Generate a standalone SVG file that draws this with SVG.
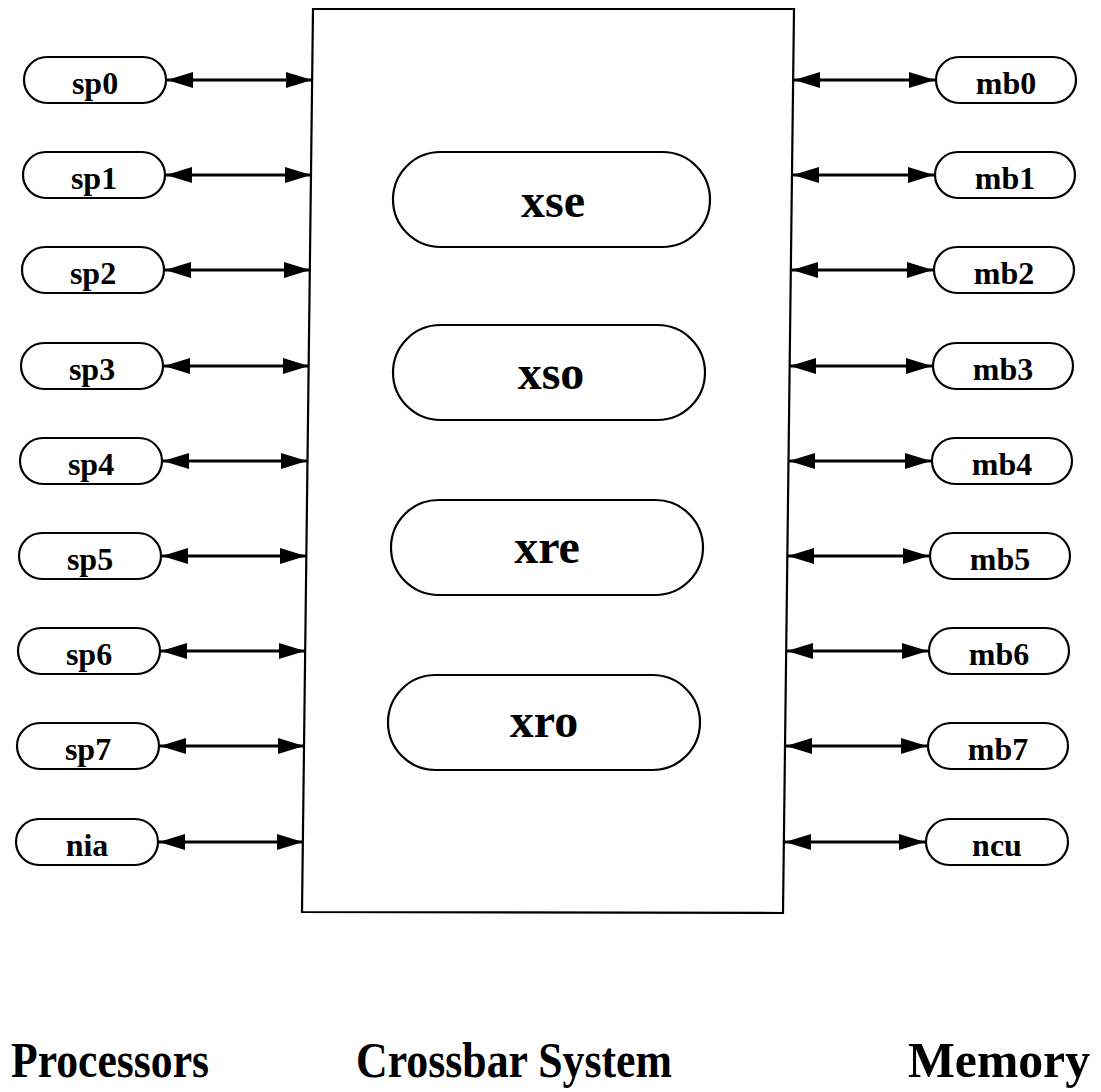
<svg xmlns="http://www.w3.org/2000/svg" width="1101" height="1092" viewBox="0 0 1101 1092">
<style>
  .nd { fill: #fff; stroke: #000; stroke-width: 2.2; }
  .lbl { font-family: "Liberation Serif", "Times New Roman", serif; font-weight: bold; font-size: 32px; text-anchor: middle; fill: #000; }
  .big { font-family: "Liberation Serif", "Times New Roman", serif; font-weight: bold; font-size: 48px; text-anchor: middle; fill: #000; }
  .cap { font-family: "Liberation Serif", "Times New Roman", serif; font-weight: bold; font-size: 50px; fill: #000; }
  .ar { stroke: #000; stroke-width: 3; fill: none; marker-start: url(#ah); marker-end: url(#ah); }
</style>
<defs>
  <marker id="ah" markerUnits="userSpaceOnUse" markerWidth="27" markerHeight="17" refX="26" refY="8" orient="auto-start-reverse">
    <path d="M0,0 L26,8 L0,16 z" fill="#000"/>
  </marker>
</defs>
<rect width="1101" height="1092" fill="#fff"/>

<g id="crossbar">
  <path d="M313,9 L794,9 L783,913 L302,912 Z" fill="#fff" stroke="#000" stroke-width="2.2"/>
</g>

<g id="xse"><rect class="nd" x="393" y="152" width="317" height="95" rx="47.5"/><text class="big" x="553" y="217">xse</text></g>
<g id="xso"><rect class="nd" x="393" y="325" width="312" height="95" rx="47.5"/><text class="big" x="551" y="389">xso</text></g>
<g id="xre"><rect class="nd" x="391" y="500" width="312" height="95" rx="47.5"/><text class="big" x="547" y="563">xre</text></g>
<g id="xro"><rect class="nd" x="388" y="675" width="312" height="95" rx="47.5"/><text class="big" x="544" y="737">xro</text></g>

<g id="sp0"><rect class="nd" x="24" y="57" width="142" height="46" rx="23"/><text class="lbl" x="95" y="94">sp0</text></g>
<g id="sp1"><rect class="nd" x="23" y="152" width="142" height="46" rx="23"/><text class="lbl" x="94" y="189">sp1</text></g>
<g id="sp2"><rect class="nd" x="22" y="247" width="142" height="46" rx="23"/><text class="lbl" x="93" y="284">sp2</text></g>
<g id="sp3"><rect class="nd" x="21" y="343" width="142" height="46" rx="23"/><text class="lbl" x="92" y="380">sp3</text></g>
<g id="sp4"><rect class="nd" x="20" y="438" width="142" height="46" rx="23"/><text class="lbl" x="91" y="475">sp4</text></g>
<g id="sp5"><rect class="nd" x="19" y="533" width="142" height="46" rx="23"/><text class="lbl" x="90" y="570">sp5</text></g>
<g id="sp6"><rect class="nd" x="18" y="628" width="142" height="46" rx="23"/><text class="lbl" x="89" y="665">sp6</text></g>
<g id="sp7"><rect class="nd" x="17" y="723" width="142" height="46" rx="23"/><text class="lbl" x="88" y="760">sp7</text></g>
<g id="nia"><rect class="nd" x="16" y="819" width="142" height="46" rx="23"/><text class="lbl" x="87" y="856">nia</text></g>

<g id="mb0"><rect class="nd" x="936" y="57" width="140" height="46" rx="23"/><text class="lbl" x="1006" y="94">mb0</text></g>
<g id="mb1"><rect class="nd" x="935" y="152" width="140" height="46" rx="23"/><text class="lbl" x="1005" y="189">mb1</text></g>
<g id="mb2"><rect class="nd" x="934" y="247" width="140" height="46" rx="23"/><text class="lbl" x="1004" y="284">mb2</text></g>
<g id="mb3"><rect class="nd" x="933" y="343" width="140" height="46" rx="23"/><text class="lbl" x="1003" y="380">mb3</text></g>
<g id="mb4"><rect class="nd" x="932" y="438" width="140" height="46" rx="23"/><text class="lbl" x="1002" y="475">mb4</text></g>
<g id="mb5"><rect class="nd" x="930" y="533" width="140" height="46" rx="23"/><text class="lbl" x="1000" y="570">mb5</text></g>
<g id="mb6"><rect class="nd" x="929" y="628" width="140" height="46" rx="23"/><text class="lbl" x="999" y="665">mb6</text></g>
<g id="mb7"><rect class="nd" x="928" y="723" width="140" height="46" rx="23"/><text class="lbl" x="998" y="760">mb7</text></g>
<g id="ncu"><rect class="nd" x="926" y="819" width="142" height="46" rx="23"/><text class="lbl" x="997" y="856">ncu</text></g>

<g id="connectors">
  <line class="ar" x1="167" y1="80" x2="312" y2="80"/>
  <line class="ar" x1="166" y1="175" x2="311" y2="175"/>
  <line class="ar" x1="165" y1="270" x2="310" y2="270"/>
  <line class="ar" x1="164" y1="366" x2="309" y2="366"/>
  <line class="ar" x1="163" y1="461" x2="307" y2="461"/>
  <line class="ar" x1="162" y1="556" x2="306" y2="556"/>
  <line class="ar" x1="161" y1="651" x2="305" y2="651"/>
  <line class="ar" x1="160" y1="746" x2="304" y2="746"/>
  <line class="ar" x1="159" y1="842" x2="303" y2="842"/>

  <line class="ar" x1="794" y1="80" x2="935" y2="80"/>
  <line class="ar" x1="793" y1="175" x2="934" y2="175"/>
  <line class="ar" x1="792" y1="270" x2="933" y2="270"/>
  <line class="ar" x1="790" y1="366" x2="932" y2="366"/>
  <line class="ar" x1="789" y1="461" x2="931" y2="461"/>
  <line class="ar" x1="788" y1="556" x2="929" y2="556"/>
  <line class="ar" x1="787" y1="651" x2="928" y2="651"/>
  <line class="ar" x1="786" y1="746" x2="927" y2="746"/>
  <line class="ar" x1="785" y1="842" x2="925" y2="842"/>
</g>

<g id="labels">
  <text class="cap" x="11" y="1077" textLength="198" lengthAdjust="spacingAndGlyphs">Processors</text>
  <text class="cap" x="356" y="1077" textLength="316" lengthAdjust="spacingAndGlyphs">Crossbar System</text>
  <text class="cap" x="908" y="1077" textLength="182" lengthAdjust="spacingAndGlyphs">Memory</text>
</g>
</svg>
